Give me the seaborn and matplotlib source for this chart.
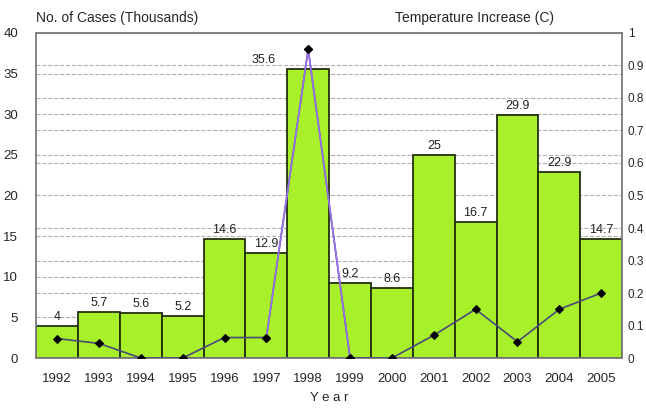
import numpy as np
import pandas as pd
import seaborn as sns
import matplotlib.pyplot as plt
from matplotlib.ticker import MultipleLocator

# datos
years = [1992, 1993, 1994, 1995, 1996, 1997, 1998, 1999, 2000, 2001, 2002, 2003, 2004, 2005]
cases = [4, 5.7, 5.6, 5.2, 14.6, 12.9, 35.6, 9.2, 8.6, 25, 16.7, 29.9, 22.9, 14.7]
case_labels = ['4', '5.7', '5.6', '5.2', '14.6', '12.9', '35.6', '9.2', '8.6', '25', '16.7', '29.9', '22.9', '14.7']
temp = [0.06, 0.045, 0.0, 0.0, 0.063, 0.063, 0.95, 0.0, 0.0, 0.07, 0.15, 0.05, 0.15, 0.2]
temp_ticks = [0, 0.1, 0.2, 0.3, 0.4, 0.5, 0.6, 0.7, 0.8, 0.9, 1]
temp_tick_labels = ['0', '0.1', '0.2', '0.3', '0.4', '0.5', '0.6', '0.7', '0.8', '0.9', '1']

db = pd.DataFrame({'Year': years, 'Cases': cases, 'Temp': temp})

sns.set_style('white')
plt.rcParams['font.family'] = ['Liberation Sans', 'DejaVu Sans']

fig = plt.figure(figsize=(6.46, 4.12), dpi=100)
ax = fig.add_axes([0.056, 0.131, 0.907, 0.789])

sns.barplot(data=db, x='Year', y='Cases', native_scale=True, width=1,
            color='#a8f02a', saturation=1, edgecolor='#22300c', linewidth=1.3, ax=ax)

# etiquetas de cada barra (la de 1998 corrida a la izquierda como en el original)
for yr, val, lab in zip(years, cases, case_labels):
    dx = -45 if yr == 1998 else 0
    ax.annotate(lab, xy=(yr, val), xytext=(dx, 3), textcoords='offset pixels',
                ha='center', va='bottom', fontsize=9, color='#222222')

ax.set_xlim(1991.5, 2005.5)
ax.set_ylim(0, 40)
ax.set_xticks(years)
ax.set_xticklabels([str(y) for y in years])
ax.yaxis.set_major_locator(MultipleLocator(5))
ax.yaxis.set_minor_locator(MultipleLocator(4))
ax.set_axisbelow(True)
ax.grid(axis='y', which='both', color='#b0b0b0', linestyle='--', linewidth=0.8)
ax.tick_params(axis='y', which='both', length=0, pad=13, labelsize=9.5)
ax.tick_params(axis='x', length=0, pad=11, labelsize=9.5)
ax.set_xlabel('Y e a r', fontsize=9.5, labelpad=5)
ax.set_ylabel('')
for s in ax.spines.values():
    s.set_color('#7a7a7a')
    s.set_linewidth(1.3)

ax2 = ax.twinx()
sns.lineplot(data=db, x='Year', y='Temp', color='#4a4a78', linewidth=1.2,
             marker='D', markersize=4, markerfacecolor='black', markeredgecolor='black', ax=ax2)
# tramo 1997-1999 en violeta claro
tramo = db[(db['Year'] >= 1997) & (db['Year'] <= 1999)]
sns.lineplot(data=tramo, x='Year', y='Temp', color='#9a70f0', linewidth=1.2,
             marker='D', markersize=4, markerfacecolor='black', markeredgecolor='black', ax=ax2)
ax2.set_ylim(0, 1)
ax2.set_yticks(temp_ticks)
ax2.set_yticklabels(temp_tick_labels)
ax2.tick_params(axis='y', length=0, pad=4, labelsize=8.5)
ax2.set_ylabel('')
ax2.grid(False)
for s in ax2.spines.values():
    s.set_visible(False)

fig.text(0.056, 0.957, 'No. of Cases (Thousands)', fontsize=10, ha='left', va='center')
fig.text(0.735, 0.957, 'Temperature Increase (C)', fontsize=10, ha='center', va='center')

fig.savefig('out.png', dpi=100)
